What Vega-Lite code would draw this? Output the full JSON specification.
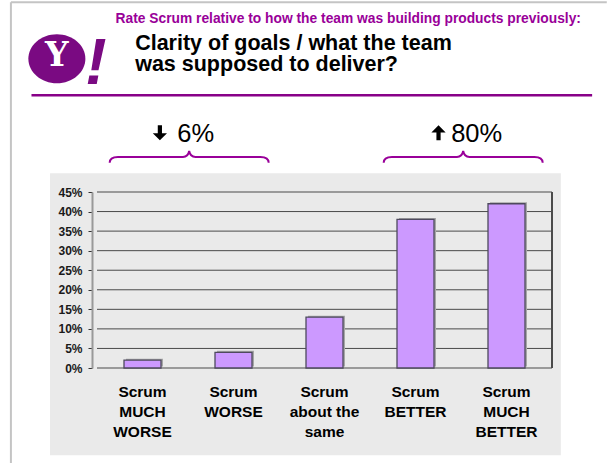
{
  "$schema": "https://vega.github.io/schema/vega-lite/v6.json",
  "width": 465,
  "height": 176,
  "autosize": {"type": "none"},
  "padding": {"left": 92, "top": 192, "right": 56, "bottom": 95},
  "background": "white",
  "config": {"view": {"stroke": null}, "font": "Liberation Sans"},
  "datasets": {
    "bars": [
      {"rating": "Scrum MUCH WORSE", "label": "Scrum|MUCH|WORSE", "rank": 0, "pct": 2},
      {"rating": "Scrum WORSE", "label": "Scrum|WORSE", "rank": 1, "pct": 4},
      {"rating": "Scrum about the same", "label": "Scrum|about the|same", "rank": 2, "pct": 13},
      {"rating": "Scrum BETTER", "label": "Scrum|BETTER", "rank": 3, "pct": 38},
      {"rating": "Scrum MUCH BETTER", "label": "Scrum|MUCH|BETTER", "rank": 4, "pct": 42}
    ],
    "grid": [{"pct": 0}, {"pct": 5}, {"pct": 10}, {"pct": 15}, {"pct": 20}, {"pct": 25}, {"pct": 30}, {"pct": 35}, {"pct": 40}, {"pct": 45}],
    "box": [{"u": -1.016, "u2": 4.597, "v": 49.8, "v2": -22.32}],
    "frame": [
      {"u": -1.446, "u2": -1.446, "v": 93.5, "v2": -24.37},
      {"u": -1.446, "u2": 5.102, "v": 93.5, "v2": 93.5}
    ],
    "logo": [{"u": -0.941, "v": 79.06}],
    "logoY": [{"u": -0.941, "v": 77.22, "t": "Y"}],
    "logoBang": [{"u": -0.511, "v": 72.74, "t": "!"}],
    "subtitle": [{"u": -0.296, "v": 88.13, "t": "Rate Scrum relative to how the team was building products previously:"}],
    "title": [{"u": -0.0806, "v": 81.36, "t": "Clarity of goals / what the team|was supposed to deliver?"}],
    "hline": [{"u": -1.22, "u2": 4.941, "v": 69.72}],
    "braces": [{"u": 0.513, "v": 53.95}, {"u": 3.524, "v": 53.95}],
    "arrows": [{"u": 0.191, "v": 60.14, "dir": "down"}, {"u": 3.253, "v": 60.14, "dir": "up"}],
    "changes": [{"u": 0.382, "v": 57.78, "t": "6%"}, {"u": 3.392, "v": 57.78, "t": "80%"}]
  },
  "layer": [
    {
      "data": {"name": "box"},
      "mark": {"type": "rect", "color": "#eaeaea"},
      "encoding": {
        "x": {"field": "u", "type": "quantitative", "scale": {"domain": [-0.5, 4.5]}, "axis": null},
        "x2": {"field": "u2"},
        "y": {"field": "v", "type": "quantitative", "scale": {"domain": [0, 45], "nice": false}, "axis": {"title": null, "values": [0, 5, 10, 15, 20, 25, 30, 35, 40, 45], "labelExpr": "datum.value + '%'", "grid": false, "zindex": 1, "domainColor": "#999999", "domainWidth": 2, "tickColor": "#333333", "tickSize": 4, "tickWidth": 1, "labelFont": "Liberation Sans", "labelFontWeight": "bold", "labelFontSize": 12, "labelColor": "#1a1a1a", "labelPadding": 6}},
        "y2": {"field": "v2"}
      }
    },
    {
      "data": {"name": "frame"},
      "mark": {"type": "rule", "color": "#c4c4c4", "strokeWidth": 2},
      "encoding": {
        "x": {"field": "u", "type": "quantitative", "scale": {"domain": [-0.5, 4.5]}, "axis": null},
        "x2": {"field": "u2"},
        "y": {"field": "v", "type": "quantitative", "scale": {"domain": [0, 45], "nice": false}, "axis": {"title": null, "values": [0, 5, 10, 15, 20, 25, 30, 35, 40, 45], "labelExpr": "datum.value + '%'", "grid": false, "zindex": 1, "domainColor": "#999999", "domainWidth": 2, "tickColor": "#333333", "tickSize": 4, "tickWidth": 1, "labelFont": "Liberation Sans", "labelFontWeight": "bold", "labelFontSize": 12, "labelColor": "#1a1a1a", "labelPadding": 6}},
        "y2": {"field": "v2"}
      }
    },
    {
      "data": {"name": "grid"},
      "mark": {"type": "rule", "color": "#4a4a4a", "strokeWidth": 1},
      "encoding": {
        "x": {"datum": -0.5, "type": "quantitative", "scale": {"domain": [-0.5, 4.5]}, "axis": null},
        "x2": {"datum": 4.5},
        "y": {"field": "pct", "type": "quantitative", "scale": {"domain": [0, 45], "nice": false}, "axis": {"title": null, "values": [0, 5, 10, 15, 20, 25, 30, 35, 40, 45], "labelExpr": "datum.value + '%'", "grid": false, "zindex": 1, "domainColor": "#999999", "domainWidth": 2, "tickColor": "#333333", "tickSize": 4, "tickWidth": 1, "labelFont": "Liberation Sans", "labelFontWeight": "bold", "labelFontSize": 12, "labelColor": "#1a1a1a", "labelPadding": 6}}
      }
    },
    {
      "data": {"name": "grid"},
      "mark": {"type": "rule", "color": "#4a4a4a", "strokeWidth": 1},
      "encoding": {
        "x": {"datum": 4.5, "type": "quantitative", "scale": {"domain": [-0.5, 4.5]}, "axis": null},
        "y": {"datum": 0, "type": "quantitative", "scale": {"domain": [0, 45], "nice": false}, "axis": {"title": null, "values": [0, 5, 10, 15, 20, 25, 30, 35, 40, 45], "labelExpr": "datum.value + '%'", "grid": false, "zindex": 1, "domainColor": "#999999", "domainWidth": 2, "tickColor": "#333333", "tickSize": 4, "tickWidth": 1, "labelFont": "Liberation Sans", "labelFontWeight": "bold", "labelFontSize": 12, "labelColor": "#1a1a1a", "labelPadding": 6}},
        "y2": {"datum": 45}
      }
    },
    {
      "data": {"name": "bars"},
      "mark": {"type": "bar", "size": 37, "color": "#a6a6a6", "xOffset": 2, "yOffset": -1.5},
      "encoding": {
        "x": {"field": "rank", "type": "quantitative", "scale": {"domain": [-0.5, 4.5]}, "axis": null},
        "y": {"field": "pct", "type": "quantitative", "scale": {"domain": [0, 45], "nice": false}, "axis": {"title": null, "values": [0, 5, 10, 15, 20, 25, 30, 35, 40, 45], "labelExpr": "datum.value + '%'", "grid": false, "zindex": 1, "domainColor": "#999999", "domainWidth": 2, "tickColor": "#333333", "tickSize": 4, "tickWidth": 1, "labelFont": "Liberation Sans", "labelFontWeight": "bold", "labelFontSize": 12, "labelColor": "#1a1a1a", "labelPadding": 6}}
      }
    },
    {
      "data": {"name": "bars"},
      "mark": {"type": "bar", "size": 37, "fill": "#cc99ff", "stroke": "#4e4a5e", "strokeWidth": 1.3},
      "encoding": {
        "x": {"field": "rank", "type": "quantitative", "scale": {"domain": [-0.5, 4.5]}, "axis": null},
        "y": {"field": "pct", "type": "quantitative", "scale": {"domain": [0, 45], "nice": false}, "axis": {"title": null, "values": [0, 5, 10, 15, 20, 25, 30, 35, 40, 45], "labelExpr": "datum.value + '%'", "grid": false, "zindex": 1, "domainColor": "#999999", "domainWidth": 2, "tickColor": "#333333", "tickSize": 4, "tickWidth": 1, "labelFont": "Liberation Sans", "labelFontWeight": "bold", "labelFontSize": 12, "labelColor": "#1a1a1a", "labelPadding": 6}}
      }
    },
    {
      "data": {"name": "bars"},
      "mark": {"type": "text", "font": "Liberation Sans", "fontWeight": "bold", "fontSize": 15.5, "lineBreak": "|", "lineHeight": 20, "align": "center", "baseline": "alphabetic", "color": "#000000"},
      "encoding": {
        "x": {"field": "rank", "type": "quantitative", "scale": {"domain": [-0.5, 4.5]}, "axis": null},
        "y": {"datum": -7.49, "type": "quantitative", "scale": {"domain": [0, 45], "nice": false}, "axis": {"title": null, "values": [0, 5, 10, 15, 20, 25, 30, 35, 40, 45], "labelExpr": "datum.value + '%'", "grid": false, "zindex": 1, "domainColor": "#999999", "domainWidth": 2, "tickColor": "#333333", "tickSize": 4, "tickWidth": 1, "labelFont": "Liberation Sans", "labelFontWeight": "bold", "labelFontSize": 12, "labelColor": "#1a1a1a", "labelPadding": 6}},
        "text": {"field": "label"}
      }
    },
    {
      "data": {"name": "logo"},
      "mark": {"type": "point", "shape": "M -1 0 C -1 -0.475 -0.552 -0.86 0 -0.86 C 0.552 -0.86 1 -0.475 1 0 C 1 0.475 0.552 0.86 0 0.86 C -0.552 0.86 -1 0.475 -1 0 Z", "size": 3249, "filled": true, "color": "#7a0a82", "opacity": 1},
      "encoding": {
        "x": {"field": "u", "type": "quantitative", "scale": {"domain": [-0.5, 4.5]}, "axis": null},
        "y": {"field": "v", "type": "quantitative", "scale": {"domain": [0, 45], "nice": false}, "axis": {"title": null, "values": [0, 5, 10, 15, 20, 25, 30, 35, 40, 45], "labelExpr": "datum.value + '%'", "grid": false, "zindex": 1, "domainColor": "#999999", "domainWidth": 2, "tickColor": "#333333", "tickSize": 4, "tickWidth": 1, "labelFont": "Liberation Sans", "labelFontWeight": "bold", "labelFontSize": 12, "labelColor": "#1a1a1a", "labelPadding": 6}}
      }
    },
    {
      "data": {"name": "logoY"},
      "mark": {"type": "text", "font": "DejaVu Serif", "fontWeight": "bold", "fontSize": 33, "align": "center", "baseline": "alphabetic", "color": "#ffffff"},
      "encoding": {
        "x": {"field": "u", "type": "quantitative", "scale": {"domain": [-0.5, 4.5]}, "axis": null},
        "y": {"field": "v", "type": "quantitative", "scale": {"domain": [0, 45], "nice": false}, "axis": {"title": null, "values": [0, 5, 10, 15, 20, 25, 30, 35, 40, 45], "labelExpr": "datum.value + '%'", "grid": false, "zindex": 1, "domainColor": "#999999", "domainWidth": 2, "tickColor": "#333333", "tickSize": 4, "tickWidth": 1, "labelFont": "Liberation Sans", "labelFontWeight": "bold", "labelFontSize": 12, "labelColor": "#1a1a1a", "labelPadding": 6}},
        "text": {"field": "t"}
      }
    },
    {
      "data": {"name": "logoBang"},
      "mark": {"type": "text", "font": "Liberation Sans", "fontWeight": "bold", "fontStyle": "italic", "fontSize": 64, "align": "center", "baseline": "alphabetic", "color": "#7a0a82"},
      "encoding": {
        "x": {"field": "u", "type": "quantitative", "scale": {"domain": [-0.5, 4.5]}, "axis": null},
        "y": {"field": "v", "type": "quantitative", "scale": {"domain": [0, 45], "nice": false}, "axis": {"title": null, "values": [0, 5, 10, 15, 20, 25, 30, 35, 40, 45], "labelExpr": "datum.value + '%'", "grid": false, "zindex": 1, "domainColor": "#999999", "domainWidth": 2, "tickColor": "#333333", "tickSize": 4, "tickWidth": 1, "labelFont": "Liberation Sans", "labelFontWeight": "bold", "labelFontSize": 12, "labelColor": "#1a1a1a", "labelPadding": 6}},
        "text": {"field": "t"}
      }
    },
    {
      "data": {"name": "subtitle"},
      "mark": {"type": "text", "font": "Liberation Sans", "fontWeight": "bold", "fontSize": 13.8, "align": "left", "baseline": "alphabetic", "color": "#990099"},
      "encoding": {
        "x": {"field": "u", "type": "quantitative", "scale": {"domain": [-0.5, 4.5]}, "axis": null},
        "y": {"field": "v", "type": "quantitative", "scale": {"domain": [0, 45], "nice": false}, "axis": {"title": null, "values": [0, 5, 10, 15, 20, 25, 30, 35, 40, 45], "labelExpr": "datum.value + '%'", "grid": false, "zindex": 1, "domainColor": "#999999", "domainWidth": 2, "tickColor": "#333333", "tickSize": 4, "tickWidth": 1, "labelFont": "Liberation Sans", "labelFontWeight": "bold", "labelFontSize": 12, "labelColor": "#1a1a1a", "labelPadding": 6}},
        "text": {"field": "t"}
      }
    },
    {
      "data": {"name": "title"},
      "mark": {"type": "text", "font": "Liberation Sans", "fontWeight": "bold", "fontSize": 21.5, "lineBreak": "|", "lineHeight": 21.5, "align": "left", "baseline": "alphabetic", "color": "#000000"},
      "encoding": {
        "x": {"field": "u", "type": "quantitative", "scale": {"domain": [-0.5, 4.5]}, "axis": null},
        "y": {"field": "v", "type": "quantitative", "scale": {"domain": [0, 45], "nice": false}, "axis": {"title": null, "values": [0, 5, 10, 15, 20, 25, 30, 35, 40, 45], "labelExpr": "datum.value + '%'", "grid": false, "zindex": 1, "domainColor": "#999999", "domainWidth": 2, "tickColor": "#333333", "tickSize": 4, "tickWidth": 1, "labelFont": "Liberation Sans", "labelFontWeight": "bold", "labelFontSize": 12, "labelColor": "#1a1a1a", "labelPadding": 6}},
        "text": {"field": "t"}
      }
    },
    {
      "data": {"name": "hline"},
      "mark": {"type": "rule", "color": "#880088", "strokeWidth": 2.5},
      "encoding": {
        "x": {"field": "u", "type": "quantitative", "scale": {"domain": [-0.5, 4.5]}, "axis": null},
        "x2": {"field": "u2"},
        "y": {"field": "v", "type": "quantitative", "scale": {"domain": [0, 45], "nice": false}, "axis": {"title": null, "values": [0, 5, 10, 15, 20, 25, 30, 35, 40, 45], "labelExpr": "datum.value + '%'", "grid": false, "zindex": 1, "domainColor": "#999999", "domainWidth": 2, "tickColor": "#333333", "tickSize": 4, "tickWidth": 1, "labelFont": "Liberation Sans", "labelFontWeight": "bold", "labelFontSize": 12, "labelColor": "#1a1a1a", "labelPadding": 6}}
      }
    },
    {
      "data": {"name": "braces"},
      "mark": {"type": "point", "shape": "M -1 0.073 C -1 0.02 -0.97 0 -0.896 0 L -0.078 0 C -0.03 0 -0.01 -0.02 0 -0.075 C 0.01 -0.02 0.03 0 0.078 0 L 0.896 0 C 0.97 0 1 0.02 1 0.073", "size": 25281, "filled": false, "stroke": "#990099", "strokeWidth": 2, "opacity": 1},
      "encoding": {
        "x": {"field": "u", "type": "quantitative", "scale": {"domain": [-0.5, 4.5]}, "axis": null},
        "y": {"field": "v", "type": "quantitative", "scale": {"domain": [0, 45], "nice": false}, "axis": {"title": null, "values": [0, 5, 10, 15, 20, 25, 30, 35, 40, 45], "labelExpr": "datum.value + '%'", "grid": false, "zindex": 1, "domainColor": "#999999", "domainWidth": 2, "tickColor": "#333333", "tickSize": 4, "tickWidth": 1, "labelFont": "Liberation Sans", "labelFontWeight": "bold", "labelFontSize": 12, "labelColor": "#1a1a1a", "labelPadding": 6}}
      }
    },
    {
      "data": {"name": "arrows"},
      "mark": {"type": "point", "size": 225, "filled": true, "color": "#000000", "opacity": 1},
      "encoding": {
        "x": {"field": "u", "type": "quantitative", "scale": {"domain": [-0.5, 4.5]}, "axis": null},
        "y": {"field": "v", "type": "quantitative", "scale": {"domain": [0, 45], "nice": false}, "axis": {"title": null, "values": [0, 5, 10, 15, 20, 25, 30, 35, 40, 45], "labelExpr": "datum.value + '%'", "grid": false, "zindex": 1, "domainColor": "#999999", "domainWidth": 2, "tickColor": "#333333", "tickSize": 4, "tickWidth": 1, "labelFont": "Liberation Sans", "labelFontWeight": "bold", "labelFontSize": 12, "labelColor": "#1a1a1a", "labelPadding": 6}},
        "shape": {"field": "dir", "type": "nominal", "legend": null, "scale": {"domain": ["down", "up"], "range": ["M -0.28 -1 L 0.28 -1 L 0.28 0.05 L 0.95 0.05 L 0 1 L -0.95 0.05 L -0.28 0.05 Z", "M -0.28 1 L 0.28 1 L 0.28 -0.05 L 0.95 -0.05 L 0 -1 L -0.95 -0.05 L -0.28 -0.05 Z"]}}
      }
    },
    {
      "data": {"name": "changes"},
      "mark": {"type": "text", "font": "Liberation Sans", "fontSize": 25.5, "align": "left", "baseline": "alphabetic", "color": "#000000"},
      "encoding": {
        "x": {"field": "u", "type": "quantitative", "scale": {"domain": [-0.5, 4.5]}, "axis": null},
        "y": {"field": "v", "type": "quantitative", "scale": {"domain": [0, 45], "nice": false}, "axis": {"title": null, "values": [0, 5, 10, 15, 20, 25, 30, 35, 40, 45], "labelExpr": "datum.value + '%'", "grid": false, "zindex": 1, "domainColor": "#999999", "domainWidth": 2, "tickColor": "#333333", "tickSize": 4, "tickWidth": 1, "labelFont": "Liberation Sans", "labelFontWeight": "bold", "labelFontSize": 12, "labelColor": "#1a1a1a", "labelPadding": 6}},
        "text": {"field": "t"}
      }
    }
  ]
}
